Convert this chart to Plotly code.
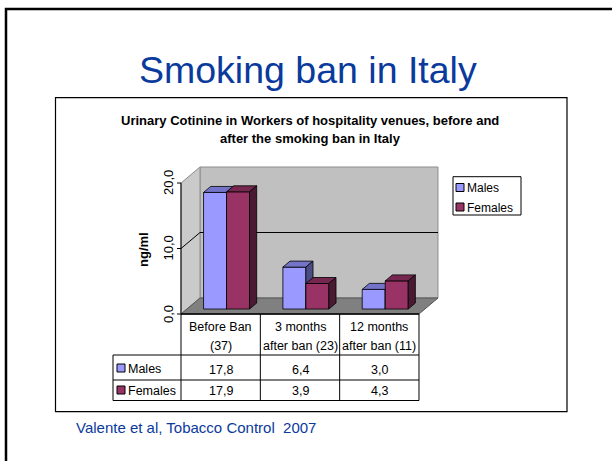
import plotly.graph_objects as go

# ---- data -------------------------------------------------------------
categories = ["Before Ban<br>(37)", "3 months<br>after ban (23)", "12 months<br>after ban (11)"]
series_names = ["Males", "Females"]
males = [17.8, 6.4, 3.0]
females = [17.9, 3.9, 4.3]
y_ticks = [0, 10, 20]

# ---- styling ----------------------------------------------------------
W, H = 612, 461
FONT = "Liberation Sans, Arial, sans-serif"
BLUE = "#0a3a9c"
face_colors = {
    "Males": ("#9999ff", "#7373c8", "#4b4b86"),     # front, top, side
    "Females": ("#993366", "#76274f", "#4a1a32"),
}

# pixel geometry of the front plane of the 3-D plot
X0_PX, CAT_PX = 181.0, 79.33   # left edge of category 0, width of one category
Y0_PX, UNIT_PX = 314.0, 6.55   # value 0, pixels per ng/ml
DEPTH_X = 19.0 / CAT_PX        # full depth of the box, data units
DEPTH_Y = 16.0 / UNIT_PX
BAR_W = 0.29
BAR_A, BAR_B = 0.31, 0.685     # bar front/back as fractions of the depth

x_range = [(0 - X0_PX) / CAT_PX, (W - X0_PX) / CAT_PX]
y_range = [(Y0_PX - H) / UNIT_PX, Y0_PX / UNIT_PX]


def px(p):
    return p / W


def py(p):
    return 1 - p / H


def dec(v):
    return f"{v:.1f}".replace(".", ",")


fig = go.Figure()


def poly(xs, ys, fill, line="#000000", lw=0.8):
    fig.add_trace(go.Scatter(
        x=xs + [xs[0]], y=ys + [ys[0]], mode="lines", fill="toself",
        fillcolor=fill, line=dict(color=line, width=lw),
        hoverinfo="skip", showlegend=False))


def seg(xs, ys, color="#000000", lw=1):
    fig.add_trace(go.Scatter(
        x=xs, y=ys, mode="lines", line=dict(color=color, width=lw),
        hoverinfo="skip", showlegend=False))


def label(text, x, y, xref="paper", yref="paper", size=12.5, color="#000000",
          xanchor="center", **kw):
    annotations.append(dict(x=x, xref=xref, y=y, yref=yref, text=text, showarrow=False,
                            xanchor=xanchor, yanchor="middle",
                            font=dict(family=FONT, size=size, color=color), **kw))


n = len(categories)
top = y_ticks[-1]

# walls and floor
poly([DEPTH_X, n + DEPTH_X, n + DEPTH_X, DEPTH_X],
     [DEPTH_Y, DEPTH_Y, top + DEPTH_Y, top + DEPTH_Y], "#c0c0c0", "#8c8c8c", 1)
poly([0, DEPTH_X, DEPTH_X, 0], [0, DEPTH_Y, top + DEPTH_Y, top], "#cacaca", "#8c8c8c", 1)
poly([0, n, n + DEPTH_X, DEPTH_X], [0, 0, DEPTH_Y, DEPTH_Y], "#808080", "#555555", 1)

# gridlines on the walls
for t in y_ticks[1:-1]:
    seg([0, DEPTH_X, n + DEPTH_X], [t, t + DEPTH_Y, t + DEPTH_Y], "#000000", 1)

# value axis with tick marks
seg([0, 0], [0, top], "#000000", 1)
for t in y_ticks:
    seg([-4 / CAT_PX, 0], [t, t], "#000000", 1)

# 3-D bars
for i in range(n):
    for k, (name, vals) in enumerate(zip(series_names, [males, females])):
        v = vals[i]
        front, topc, side = face_colors[name]
        x0 = i + 0.5 - BAR_W + k * BAR_W
        x1 = x0 + BAR_W
        ax, ay = BAR_A * DEPTH_X, BAR_A * DEPTH_Y
        bx, by = BAR_B * DEPTH_X, BAR_B * DEPTH_Y
        poly([x0 + ax, x1 + ax, x1 + ax, x0 + ax], [ay, ay, v + ay, v + ay], front)
        poly([x0 + ax, x1 + ax, x1 + bx, x0 + bx], [v + ay, v + ay, v + by, v + by], topc)
        poly([x1 + ax, x1 + bx, x1 + bx, x1 + ax], [ay, by, v + by, v + ay], side)

shapes = []
annotations = []

# slide frame and chart frame
shapes.append(dict(type="rect", xref="paper", yref="paper", x0=px(6), x1=px(640),
                   y0=py(9), y1=py(490), line=dict(color="#000000", width=2.5)))
shapes.append(dict(type="rect", xref="paper", yref="paper", x0=px(55.5), x1=px(567),
                   y0=py(97.7), y1=py(411.7), line=dict(color="#000000", width=1.2)))

# data table
ROW_HDR_TOP, ROW_HDR_BOT, ROW_M_BOT, ROW_F_BOT = 314.0, 355.0, 380.0, 400.5
LABEL_LEFT = 113.0
tline = dict(color="#000000", width=1)
for yy in [ROW_HDR_BOT, ROW_M_BOT, ROW_F_BOT]:
    shapes.append(dict(type="line", xref="paper", yref="paper", x0=px(LABEL_LEFT),
                       x1=px(X0_PX + n * CAT_PX), y0=py(yy), y1=py(yy), line=tline))
shapes.append(dict(type="line", xref="paper", yref="paper", x0=px(LABEL_LEFT), x1=px(LABEL_LEFT),
                   y0=py(ROW_HDR_BOT), y1=py(ROW_F_BOT), line=tline))
for i in range(n + 1):
    shapes.append(dict(type="line", xref="x", yref="paper", x0=i, x1=i,
                       y0=py(ROW_HDR_TOP), y1=py(ROW_F_BOT), line=tline))
seg([0, n], [0, 0], "#000000", 1.3)

for i, cat in enumerate(categories):
    l1, l2 = cat.split("<br>")
    label(l1, i + 0.5, py(327), xref="x")
    label(l2, i + 0.5, py(345.5), xref="x")
    for vals, yy in [(males, 369.5), (females, 390.5)]:
        label(dec(vals[i]), i + 0.5, py(yy), xref="x")

for name, yy in [("Males", 368), ("Females", 390)]:
    shapes.append(dict(type="rect", xref="paper", yref="paper", x0=px(117), x1=px(125),
                       y0=py(yy - 4), y1=py(yy + 4), fillcolor=face_colors[name][0],
                       line=dict(color="#000000", width=1)))
    label(name, px(126), py(yy + 1), xanchor="left")

# legend
shapes.append(dict(type="rect", xref="paper", yref="paper", x0=px(453), x1=px(521),
                   y0=py(176.7), y1=py(215), line=dict(color="#000000", width=1)))
for name, yy in [("Males", 187.5), ("Females", 207)]:
    shapes.append(dict(type="rect", xref="paper", yref="paper", x0=px(456), x1=px(464),
                       y0=py(yy - 4), y1=py(yy + 4), fillcolor=face_colors[name][0],
                       line=dict(color="#000000", width=1)))
    label(name, px(465), py(yy + 0.5), xanchor="left", size=12)

# value axis labels
for t in y_ticks:
    label(dec(t), 0, t, xref="x", yref="y", textangle=-90, xshift=-13, size=13)
label("<b>ng/ml</b>", px(143), py(250), textangle=-90, size=13)

# titles and citation
label("Smoking ban in Italy", px(308), py(70), size=37.5, color=BLUE)
label("<b>Urinary Cotinine in Workers of hospitality venues, before and</b>",
      px(310), py(120), size=13)
label("<b>after the smoking ban in Italy</b>", px(310), py(138), size=13)
label("Valente et al, Tobacco Control  2007", px(74), py(427), size=15, color=BLUE,
      xanchor="left")

fig.update_layout(
    width=W, height=H, autosize=False,
    margin=dict(l=0, r=0, t=0, b=0, pad=0),
    paper_bgcolor="#ffffff", plot_bgcolor="rgba(0,0,0,0)",
    xaxis=dict(range=x_range, visible=False, domain=[0, 1], fixedrange=True),
    yaxis=dict(range=y_range, visible=False, domain=[0, 1], fixedrange=True),
    shapes=shapes, annotations=annotations, showlegend=False,
)

fig.write_html("out.html", config={"displayModeBar": False})
